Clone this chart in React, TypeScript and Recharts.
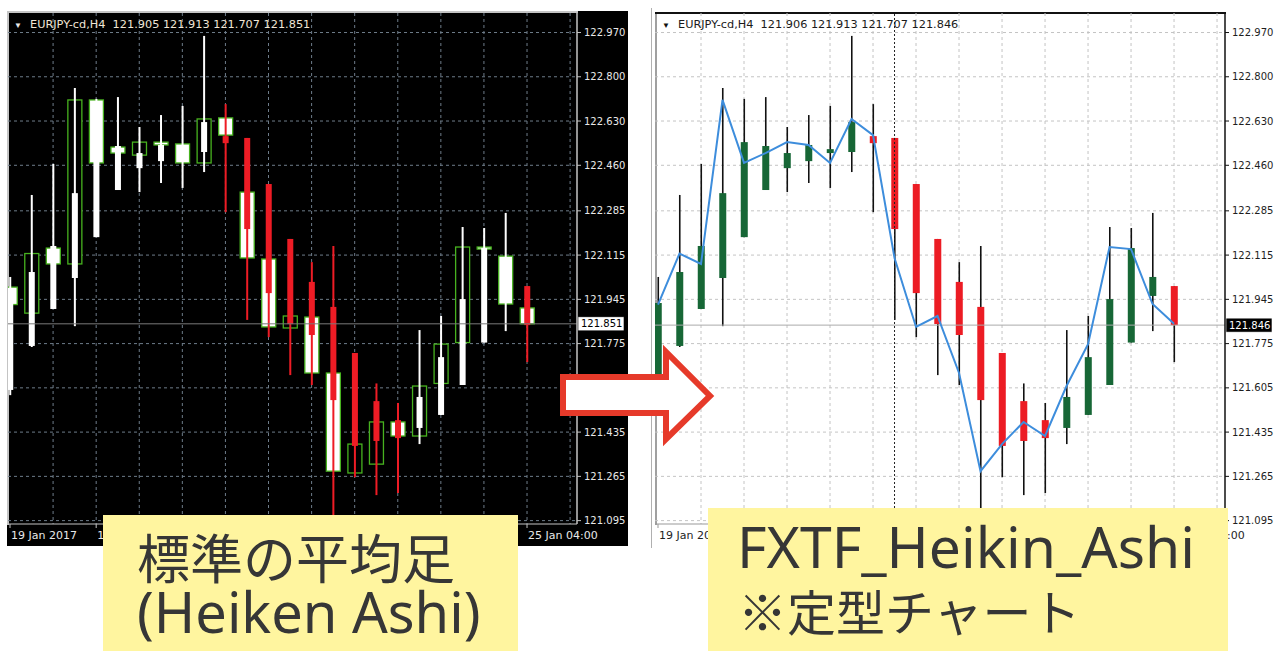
import React from 'react';
import {
  ComposedChart,
  Bar,
  Line,
  XAxis,
  YAxis,
  CartesianGrid,
  ReferenceLine,
} from 'recharts';

// H4 bars, 0 = leftmost
const barIndex = [0, 1, 2, 3, 4, 5, 6, 7, 8, 9, 10, 11, 12, 13, 14, 15, 16, 17, 18, 19, 20, 21, 22, 23, 24];
const timeTicks = [0, 4, 8, 12, 16, 20, 24];
// only the labels the yellow boxes leave visible
const timeLabels = ['19 Jan 2017', '19 Jan 20:00', '', '', '', '', '25 Jan 04:00'];
const gridBars = [2, 4, 6, 8, 10, 12, 14, 16, 18, 20, 22, 24, 26];
const priceTicks = [122.97, 122.8, 122.63, 122.46, 122.285, 122.115, 121.945, 121.775, 121.605, 121.435, 121.265, 121.095];
const priceDomain = [121.082, 123.045];

// Heiken Ashi
const haOpen = [121.597, 121.766, 121.908, 122.027, 122.184, 122.365, 122.449, 122.476, 122.507, 122.511, 122.572, 122.565, 122.388, 122.177, 122.012, 121.916, 121.739, 121.554, 121.481, 121.451, 121.501, 121.616, 121.779, 121.958, 121.996];
const haClose = [121.931, 122.05, 122.15, 122.353, 122.549, 122.534, 122.507, 122.538, 122.522, 122.626, 122.545, 122.215, 121.969, 121.85, 121.808, 121.558, 121.382, 121.401, 121.412, 121.57, 121.723, 121.946, 122.142, 122.031, 121.846];
const haHigh = [122.031, 122.346, 122.465, 122.757, 122.715, 122.722, 122.607, 122.653, 122.688, 122.957, 122.695, 122.565, 122.388, 122.177, 122.088, 122.15, 121.739, 121.622, 121.547, 121.827, 121.881, 122.223, 122.219, 122.277, 121.996];
const haLow = [121.577, 121.762, 121.908, 121.842, 122.184, 122.365, 122.357, 122.392, 122.373, 122.434, 122.28, 121.866, 121.8, 121.654, 121.616, 121.116, 121.262, 121.193, 121.201, 121.389, 121.501, 121.616, 121.779, 121.823, 121.704];

// plain candles underneath (left chart) / close line (right chart)
const barOpen = [121.992, 121.892, 122.142, 122.081, 122.711, 122.53, 122.499, 122.549, 122.542, 122.469, 122.642, 122.357, 122.1, 121.835, 121.877, 121.662, 121.278, 121.312, 121.474, 121.42, 121.622, 121.779, 122.146, 122.111, 121.912];
const barClose = [121.925, 122.121, 122.081, 122.711, 122.469, 122.507, 122.549, 122.538, 122.469, 122.638, 122.576, 122.104, 121.839, 121.881, 121.662, 121.285, 121.389, 121.474, 121.42, 121.612, 121.773, 122.146, 122.138, 121.927, 121.851];

const rows = barIndex.map((i) => {
  const all = [haOpen[i], haClose[i], haHigh[i], haLow[i], barOpen[i], barClose[i]];
  return {
    i,
    span: [Math.min(...all), Math.max(...all)],
    haO: haOpen[i],
    haC: haClose[i],
    haH: haHigh[i],
    haL: haLow[i],
    open: barOpen[i],
    close: barClose[i],
  };
});

const candleShape = (dark: boolean) => (p: any) => {
  const { x, y, width, height, payload } = p;
  if (x == null || !payload) return <g />;
  const [lo, hi] = payload.span;
  const top = Math.min(y, y + height);
  const h = Math.abs(height);
  const py = (v: number) => top + ((hi - v) / (hi - lo)) * h;
  const cx = x + width / 2;
  const up = payload.haC >= payload.haO;
  const bTop = py(Math.max(payload.haO, payload.haC));
  const bH = Math.max(py(Math.min(payload.haO, payload.haC)) - bTop, 2);

  if (dark) {
    const rise = payload.close >= payload.open;
    const boxTop = py(Math.max(payload.open, payload.close));
    const boxH = Math.max(py(Math.min(payload.open, payload.close)) - boxTop, 1);
    const col = up ? '#ffffff' : '#ee1c25';
    return (
      <g>
        <rect x={cx - 7} y={boxTop} width={14} height={boxH} fill={rise ? '#000' : '#fff'} stroke="#47b21f" strokeWidth={1.3} />
        <line x1={cx} x2={cx} y1={py(payload.haH)} y2={py(payload.haL)} stroke={col} strokeWidth={2} />
        <rect x={cx - 3} y={bTop} width={6} height={bH} fill={col} />
      </g>
    );
  }
  return (
    <g>
      <line x1={cx} x2={cx} y1={py(payload.haH)} y2={py(payload.haL)} stroke="#111" strokeWidth={1.6} />
      <rect x={cx - 3.5} y={bTop} width={7} height={bH} fill={up ? '#176736' : '#ec1c24'} />
    </g>
  );
};

const priceTag = (text: string, bg: string, fg: string) => (p: any) => {
  const vb = p.viewBox;
  if (!vb) return null;
  const x0 = vb.x + vb.width + 1;
  return (
    <g>
      <rect x={x0} y={vb.y - 7} width={46} height={14} fill={bg} stroke={fg} strokeWidth={0.6} />
      <text x={x0 + 3} y={vb.y} dy="0.36em" fill={fg} fontSize={10} fontFamily="DejaVu Sans">
        {text}
      </text>
    </g>
  );
};

function TimeTick(props: any) {
  const { x, y, payload, fill } = props;
  const label = timeLabels[timeTicks.indexOf(payload.value)];
  if (!label) return <g />;
  return (
    <text x={x + 1} y={y} dy={9} fill={fill} fontSize={11} fontFamily="DejaVu Sans" textAnchor="start">
      {label}
    </text>
  );
}

interface PanelProps {
  dark: boolean;
  width: number;
  margin: { top: number; left: number; right: number; bottom: number };
  xDomain: number[];
  last: string;
}

function HeikinPanel({ dark, width, margin, xDomain, last }: PanelProps) {
  const text = dark ? '#e8e8e8' : '#1e1e1e';
  const frame = dark ? '#c4c4c4' : '#111';
  return (
    <ComposedChart width={width} height={560} data={rows} margin={margin}>
      <CartesianGrid
        stroke={dark ? '#6e7c8a' : '#c4c4c4'}
        strokeDasharray="3 3"
        verticalValues={gridBars}
        horizontalValues={priceTicks}
      />
      <XAxis
        type="number"
        dataKey="i"
        domain={xDomain}
        allowDataOverflow
        ticks={timeTicks}
        interval={0}
        height={22}
        tickSize={4}
        tick={<TimeTick fill={text} />}
        axisLine={{ stroke: dark ? '#c4c4c4' : '#999' }}
        tickLine={{ stroke: dark ? '#c4c4c4' : '#999' }}
      />
      <YAxis
        orientation="right"
        type="number"
        domain={priceDomain}
        allowDataOverflow
        ticks={priceTicks}
        interval={0}
        width={48}
        tickSize={4}
        tickMargin={3}
        tickFormatter={(v: number) => v.toFixed(3)}
        tick={{ fill: text, fontSize: 10, fontFamily: 'DejaVu Sans' }}
        axisLine={{ stroke: frame, strokeWidth: 1.5 }}
        tickLine={{ stroke: frame }}
      />
      {!dark && <ReferenceLine x={11} stroke="#222" strokeDasharray="2 2" />}
      <ReferenceLine
        y={dark ? 121.851 : 121.846}
        stroke={dark ? '#7a7a7a' : '#aaaaaa'}
        label={priceTag(last, dark ? '#fff' : '#000', dark ? '#000' : '#fff')}
      />
      <Bar dataKey="span" barSize={14} shape={candleShape(dark)} isAnimationActive={false} />
      {!dark && (
        <Line dataKey="close" stroke="#3d8ddc" strokeWidth={2} dot={false} isAnimationActive={false} />
      )}
    </ComposedChart>
  );
}

export default function App() {
  return (
    <div style={{ position: 'absolute', left: 0, top: 0, width: 1276, height: 651, background: '#fff', overflow: 'hidden' }}>
      <div style={{ position: 'absolute', left: 7, top: 11, width: 621, height: 535, background: '#000' }} />
      {/* window frames */}
      <div style={{ position: 'absolute', left: 7, top: 11, width: 571, height: 2, background: '#c4c4c4' }} />
      <div style={{ position: 'absolute', left: 7, top: 11, width: 2, height: 514, background: '#c4c4c4' }} />
      <div style={{ position: 'absolute', left: 651, top: 8, width: 1, height: 540, background: '#b0b0b0' }} />
      <div style={{ position: 'absolute', left: 655, top: 12, width: 2, height: 513, background: '#a0a0a0' }} />
      <div style={{ position: 'absolute', left: 655, top: 12, width: 571, height: 2, background: '#111' }} />
      <div style={{ position: 'absolute', left: 0, top: 0 }}>
        <HeikinPanel dark width={630} margin={{ top: 13, left: 8, right: 5, bottom: 14 }} xDomain={[-0.093, 26.32]} last="121.851" />
      </div>
      <div style={{ position: 'absolute', left: 640, top: 0 }}>
        <HeikinPanel dark={false} width={636} margin={{ top: 13, left: 15, right: 3, bottom: 14 }} xDomain={[-0.14, 26.37]} last="121.846" />
      </div>
      <svg width={1276} height={651} style={{ position: 'absolute', left: 0, top: 0 }}>
        <text x={14} y={28} fontSize={8} fill="#e8e8e8">▼</text>
        <text x={30} y={28} fontSize={11.3} fontFamily="DejaVu Sans" fill="#f0e6d6" xmlSpace="preserve">
          EURJPY-cd,H4  121.905 121.913 121.707 121.851
        </text>
        <text x={662} y={28} fontSize={8} fill="#111">▼</text>
        <text x={678} y={28} fontSize={11.3} fontFamily="DejaVu Sans" fill="#1a1a1a" xmlSpace="preserve">
          EURJPY-cd,H4  121.906 121.913 121.707 121.846
        </text>
        <polygon
          points="563,377 666,377 666,352 710,396 666,439 666,413 563,413"
          fill="#fff"
          stroke="#e63a2a"
          strokeWidth={6}
          strokeLinejoin="miter"
        />
        <rect x={103} y={515} width={415} height={140} fill="#fff59f" />
        <rect x={708} y={508} width={520} height={147} fill="#fff59f" />
        <text x={137} y={579} fontSize={53} fontFamily="Noto Sans CJK JP" fill="#363636">標準の平均足</text>
        <text x={137} y={633} fontSize={56} fontFamily="Noto Sans" fill="#363636">(Heiken Ashi)</text>
        <text x={737} y={568} fontSize={57} fontFamily="Noto Sans" fill="#363636">FXTF_Heikin_Ashi</text>
        <text x={738} y={631} fontSize={49} fontFamily="Noto Sans CJK JP" fill="#363636">※定型チャート</text>
      </svg>
    </div>
  );
}
